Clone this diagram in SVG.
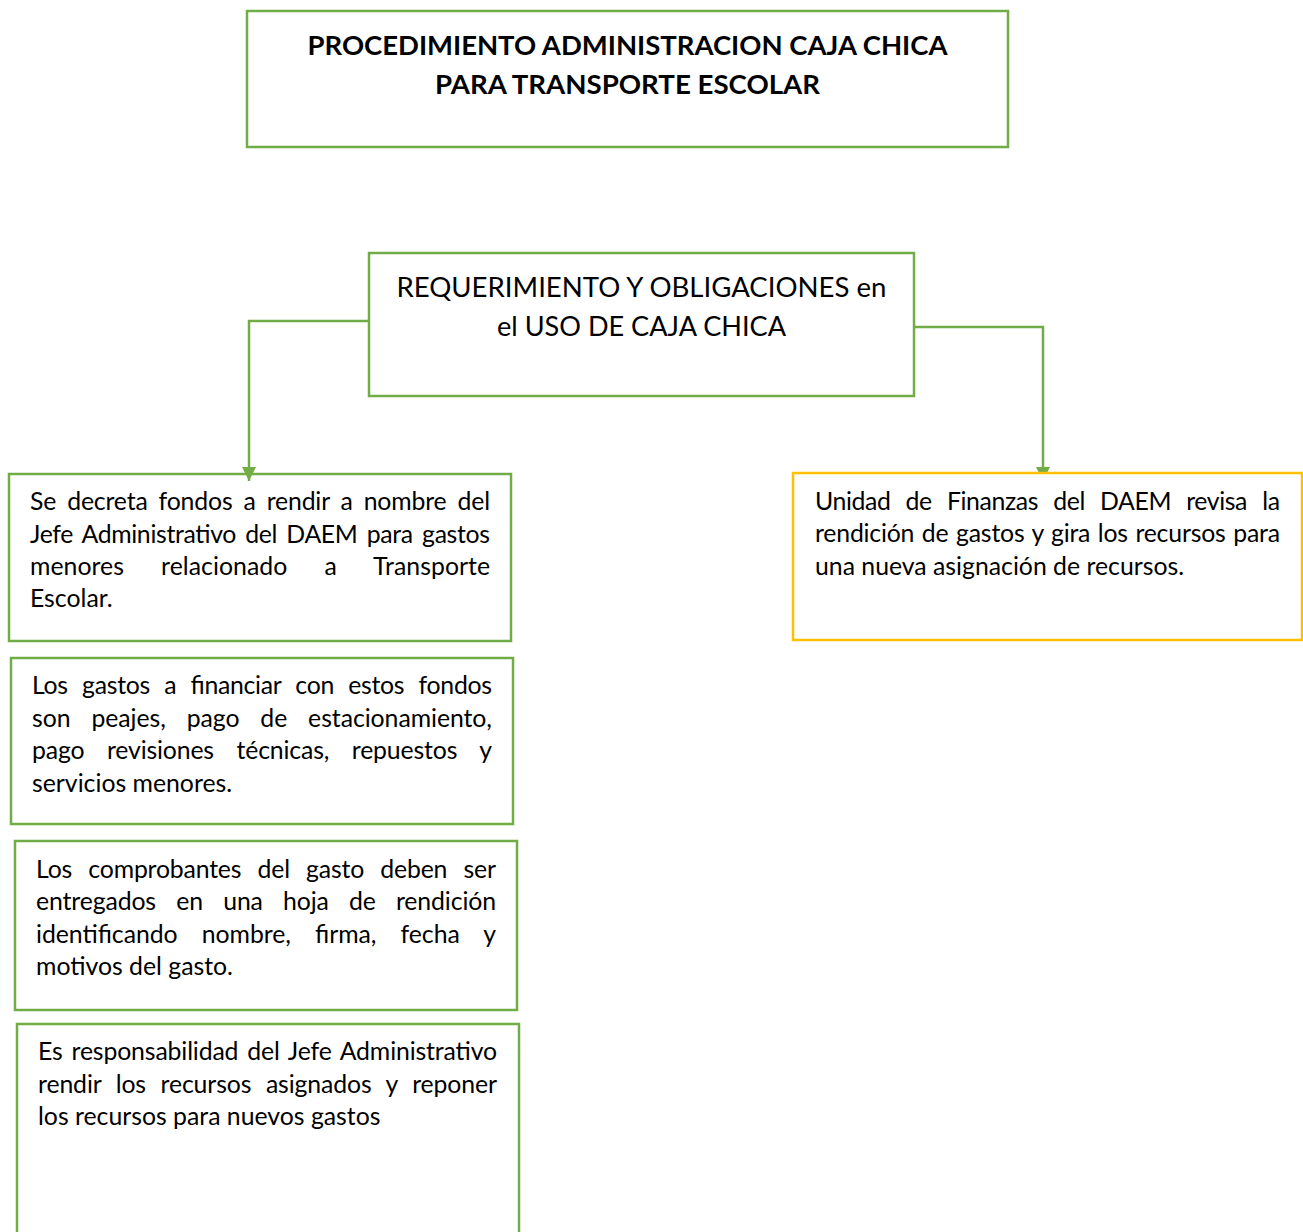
<svg xmlns="http://www.w3.org/2000/svg" width="1303" height="1232" viewBox="0 0 1303 1232">
<style>
.box{fill:#fff;stroke:#70AD47;stroke-width:2.5}
.boxn{fill:none;stroke:#70AD47;stroke-width:2.5}
.ybox{fill:#fff;stroke:#FFC000;stroke-width:2.5}
.conn{fill:none;stroke:#70AD47;stroke-width:2.5}
.ttl{font-family:Lato,"Open Sans",sans-serif;font-weight:bold;font-size:26px;fill:#000;text-anchor:middle}
.hd{font-family:Lato,"Open Sans",sans-serif;font-size:27px;fill:#000;text-anchor:middle}
.t{font-family:Lato,"Open Sans",sans-serif;font-size:24.8px;fill:#000}
</style>
<defs>
<marker id="arr" viewBox="0 0 14 14" refX="14" refY="7" markerWidth="14" markerHeight="14" markerUnits="userSpaceOnUse" orient="auto">
<path d="M0,0 L14,7 L0,14 z" fill="#70AD47"/>
</marker>
</defs>
<rect width="1303" height="1232" fill="#fff"/>

<g id="title">
<rect class="box" x="247" y="11" width="761" height="136"/>
<text class="ttl" x="627.5" y="55" textLength="640" lengthAdjust="spacingAndGlyphs">PROCEDIMIENTO ADMINISTRACION CAJA CHICA</text>
<text class="ttl" x="627.5" y="94" textLength="385" lengthAdjust="spacingAndGlyphs">PARA TRANSPORTE ESCOLAR</text>
</g>

<g id="requerimiento">
<rect class="box" x="369" y="253" width="545" height="143"/>
<text class="hd" x="641.5" y="297" textLength="490" lengthAdjust="spacingAndGlyphs">REQUERIMIENTO Y OBLIGACIONES en</text>
<text class="hd" x="641.5" y="336" textLength="289" lengthAdjust="spacingAndGlyphs">el USO DE CAJA CHICA</text>
</g>

<g id="fondos">
<rect class="boxn" x="9" y="474" width="502" height="167"/>
<text class="t" x="30" y="510" word-spacing="4.8" textLength="460" lengthAdjust="spacing">Se decreta fondos a rendir a nombre del</text>
<text class="t" x="30" y="543" word-spacing="3.2" textLength="460" lengthAdjust="spacing">Jefe Administrativo del DAEM para gastos</text>
<text class="t" x="30" y="575" word-spacing="30.7" textLength="460" lengthAdjust="spacing">menores relacionado a Transporte</text>
<text class="t" x="30" y="607">Escolar.</text>
</g>

<g id="gastos">
<rect class="box" x="11" y="658" width="502" height="166"/>
<text class="t" x="32" y="694" word-spacing="8.2" textLength="460" lengthAdjust="spacing">Los gastos a financiar con estos fondos</text>
<text class="t" x="32" y="727" word-spacing="14.6" textLength="460" lengthAdjust="spacing">son peajes, pago de estacionamiento,</text>
<text class="t" x="32" y="759" word-spacing="16.4" textLength="460" lengthAdjust="spacing">pago revisiones técnicas, repuestos y</text>
<text class="t" x="32" y="792">servicios menores.</text>
</g>

<g id="comprobantes">
<rect class="box" x="15" y="841" width="502" height="169"/>
<text class="t" x="36" y="878" word-spacing="10.1" textLength="460" lengthAdjust="spacing">Los comprobantes del gasto deben ser</text>
<text class="t" x="36" y="910" word-spacing="14" textLength="460" lengthAdjust="spacing">entregados en una hoja de rendición</text>
<text class="t" x="36" y="943" word-spacing="17.8" textLength="460" lengthAdjust="spacing">identificando nombre, firma, fecha y</text>
<text class="t" x="36" y="975">motivos del gasto.</text>
</g>

<g id="responsabilidad">
<rect class="box" x="17" y="1024" width="502" height="240"/>
<text class="t" x="38" y="1060" word-spacing="2.7" textLength="459" lengthAdjust="spacing">Es responsabilidad del Jefe Administrativo</text>
<text class="t" x="38" y="1093" word-spacing="8.3" textLength="459" lengthAdjust="spacing">rendir los recursos asignados y reponer</text>
<text class="t" x="38" y="1125">los recursos para nuevos gastos</text>
</g>

<g id="connectors">
<path class="conn" d="M369,321 H249 V481" marker-end="url(#arr)"/>
<path class="conn" d="M914,327 H1043 V481" marker-end="url(#arr)"/>
</g>

<g id="finanzas">
<rect class="ybox" x="793" y="473" width="509" height="167"/>
<text class="t" x="815" y="510" word-spacing="9.2" textLength="465" lengthAdjust="spacing">Unidad de Finanzas del DAEM revisa la</text>
<text class="t" x="815" y="542" word-spacing="1.4" textLength="465" lengthAdjust="spacing">rendición de gastos y gira los recursos para</text>
<text class="t" x="815" y="575">una nueva asignación de recursos.</text>
</g>
</svg>
